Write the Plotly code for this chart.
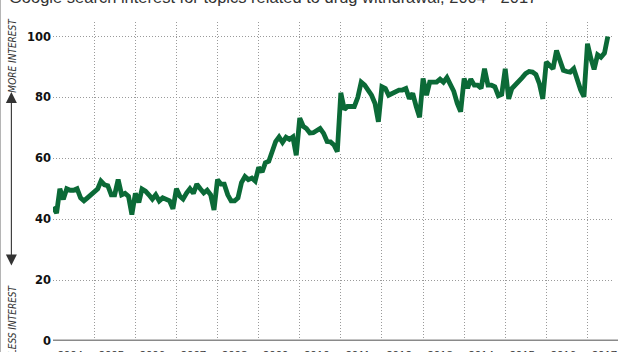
import pandas as pd
import plotly.graph_objects as go

# Monthly Google search interest (Jan 2004 .. Jul 2017)
interest = [
    44, 42, 50, 46.5, 50, 49.5, 49.5, 50, 47, 46, 47, 48,            # 2004
    49, 50, 52.5, 51.3, 51, 48, 48, 53, 48, 48.5, 47.5, 41.5,        # 2005
    48.5, 45.5, 49.9, 49.2, 48, 46.6, 48, 46, 47, 46.4, 46, 43.4,    # 2006
    50, 47.5, 46.6, 48.6, 50, 48.5, 51.5, 50, 48.6, 49.5, 48, 43,    # 2007
    53, 51.5, 51.5, 48, 46, 46, 47, 52, 54, 53, 53.5, 52.5,          # 2008
    57, 55.5, 58.5, 59, 62, 65.5, 67, 65.2, 66.9, 66.2, 67, 61,      # 2009
    73.2, 70.5, 69.8, 68.3, 68.4, 69.3, 69.8, 68.2, 65.5, 65.4, 64.4, 62.2,  # 2010
    81.5, 76, 77, 77, 77, 80, 85, 84, 82.4, 80.7, 78, 72,            # 2011
    83.5, 82.9, 80.7, 81.3, 81.8, 82.4, 82.4, 82.9, 79.6, 81.3, 77, 73.5,    # 2012
    86.2, 80.7, 85, 85, 85, 86, 85, 86.5, 84, 82, 78, 75.3,          # 2013
    86.2, 83, 86, 84, 84, 83, 89.4, 84, 84, 83.5, 80.5, 81,          # 2014
    89.4, 79.5, 82.9, 84, 85, 86.5, 87.8, 88.5, 88.3, 87.5, 84.5, 79.5,      # 2015
    91.6, 90.5, 89.4, 95.4, 92, 88.9, 88.5, 88.3, 89.4, 85.5, 82.5, 80.2,    # 2016
    97.6, 92.7, 89.2, 94, 93.2, 94.5, 100,                           # 2017
]
dates = pd.date_range("2004-01-01", periods=len(interest), freq="MS")

years = list(range(2004, 2018))
year_labels = [str(y) for y in years]
year_starts = [f"{y}-01-01" for y in years]
label_pos = [f"{y}-06-01" for y in years]
y_ticks = [0, 20, 40, 60, 80, 100]

title_text = "Google search interest for topics related to drug withdrawal, 2004 - 2017"

W, H = 621, 352
L, R, T, B = 53.3, 8, 22, 10.5
pw, ph = W - L - R, H - T - B


def px_x(px):
    return (px - L) / pw


def px_y(py):
    return (H - B - py) / ph


GREEN = "#0b6a37"
GRID = "#9a9a9a"
SIDE_FONT = "DejaVu Sans Condensed, Liberation Sans Narrow, Liberation Sans, sans-serif"

fig = go.Figure()
fig.add_trace(go.Scatter(x=dates, y=interest, mode="lines",
                         line=dict(color="white", width=8),
                         hoverinfo="skip", showlegend=False))
fig.add_trace(go.Scatter(x=dates, y=interest, mode="lines",
                         line=dict(color=GREEN, width=4.8),
                         showlegend=False))

fig.update_layout(
    width=W, height=H,
    margin=dict(l=L, r=R, t=T, b=B, pad=0, autoexpand=False),
    paper_bgcolor="white", plot_bgcolor="white",
    showlegend=False,
    xaxis=dict(
        type="date", automargin=False,
        range=["2003-12-31", "2017-08-16"],
        tickmode="array", tickvals=label_pos, ticktext=year_labels,
        ticks="", showgrid=False, zeroline=False, showline=False,
        ticklabelstandoff=5,
        tickfont=dict(family="Liberation Sans, Arial, sans-serif", size=11.5, color="#333"),
        minor=dict(tickmode="array", tickvals=year_starts, showgrid=True,
                   gridcolor=GRID, gridwidth=1, griddash="1px,2px", ticks=""),
    ),
    yaxis=dict(
        range=[0, 104.75], automargin=False,
        tickmode="array", tickvals=y_ticks,
        ticks="", showgrid=True, gridcolor=GRID, gridwidth=1, griddash="1px,2px",
        zeroline=False, showline=False, ticklabelstandoff=1,
        tickfont=dict(family="DejaVu Sans, sans-serif", size=11.5, color="#111", weight="bold"),
    ),
    shapes=[
        dict(type="line", xref="paper", yref="y", x0=0, x1=px_x(618), y0=0, y1=0,
             line=dict(color="#8a8a8a", width=3)),
        dict(type="line", xref="paper", yref="paper", x0=px_x(0.7), x1=px_x(0.7),
             y0=px_y(H + 2), y1=px_y(-2), line=dict(color="#aaaaaa", width=1)),
    ],
    annotations=[
        dict(text=title_text, xref="paper", yref="paper", x=px_x(7), y=px_y(-3.5),
             xanchor="left", yanchor="middle", showarrow=False,
             font=dict(family="Liberation Sans, Arial, sans-serif", size=16.5, color="#333")),
        dict(text="<i>MORE INTEREST</i>", xref="paper", yref="paper",
             x=px_x(13), y=px_y(55), textangle=-90, showarrow=False,
             xanchor="center", yanchor="middle",
             font=dict(family=SIDE_FONT, size=10, color="#333")),
        dict(text="<i>LESS INTEREST</i>", xref="paper", yref="paper",
             x=px_x(13), y=px_y(283), textangle=-90, showarrow=False,
             xanchor="center", yanchor="top",
             font=dict(family=SIDE_FONT, size=10, color="#333")),
        dict(text="", xref="paper", yref="paper", x=px_x(11.7), y=px_y(92),
             ax=0, ay=175, showarrow=True, arrowside="end+start",
             arrowhead=2, arrowsize=2, arrowwidth=1.1, arrowcolor="#333",
             standoff=0, startstandoff=0),
    ],
)

fig.write_html("out.html")
